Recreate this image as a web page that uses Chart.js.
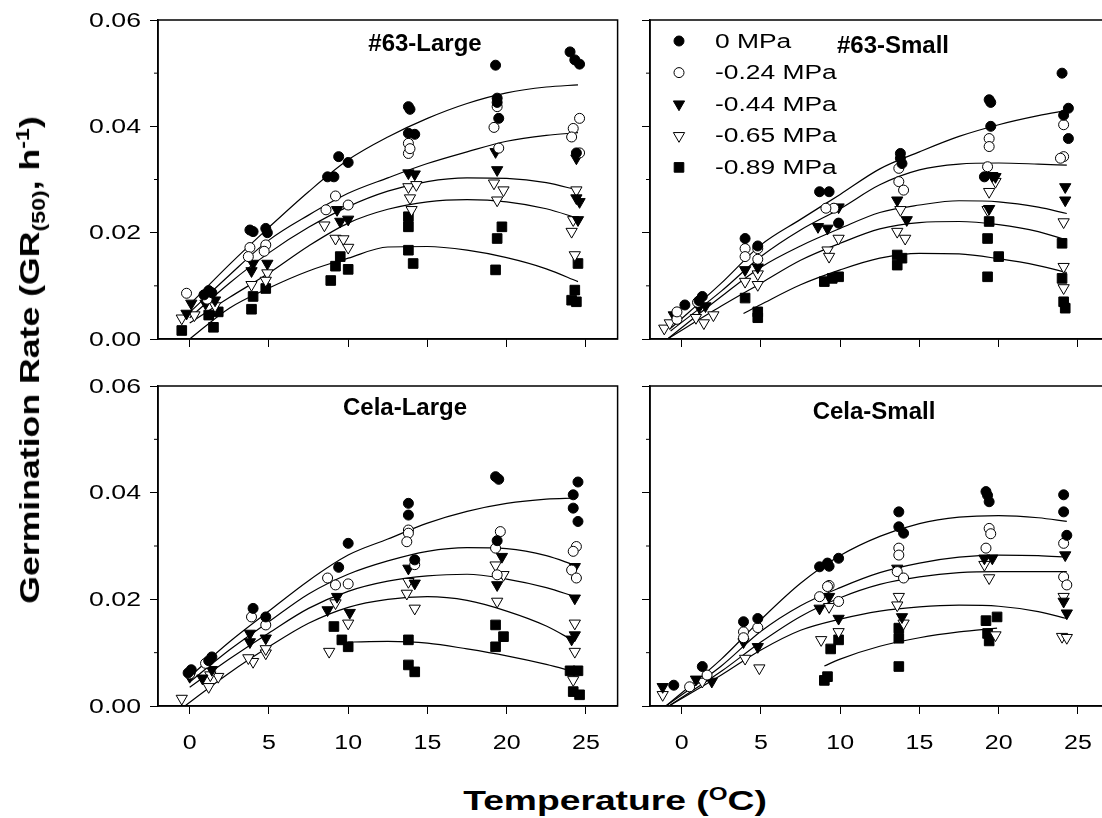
<!DOCTYPE html>
<html>
<head>
<meta charset="utf-8">
<script src="https://cdn.jsdelivr.net/npm/chart.js@4.4.0/dist/chart.umd.min.js"></script>
<style>
  html, body { margin: 0; padding: 0; background: #fff; }
  #wrap { position: relative; width: 1102px; height: 818px; overflow: hidden; background: #fff; }
  canvas { position: absolute; }
  .axis-title { position: absolute; font-family: Arial, "Liberation Sans", sans-serif; font-weight: bold; color: #000; white-space: nowrap; line-height: 1; }
  .axis-title sub, .axis-title sup { font-size: 65%; }
  #ytitle { left: 32px; top: 360px; transform: translate(-50%, -50%) rotate(-90deg) scaleX(1.32); font-size: 27px; }
  #xtitle { left: 615px; top: 800px; transform: translate(-50%, -50%) scaleX(1.33); font-size: 28px; }
</style>
</head>
<body>
<div id="wrap">
  <canvas id="c63L" width="640" height="360" style="left:0px;top:0px"></canvas>
  <canvas id="c63S" width="510" height="360" style="left:620px;top:0px"></canvas>
  <canvas id="cCelaL" width="640" height="400" style="left:0px;top:362px"></canvas>
  <canvas id="cCelaS" width="510" height="400" style="left:620px;top:362px"></canvas>
  <div id="ytitle" class="axis-title">Germination Rate (GR<sub>(50)</sub>, h<sup>-1</sup>)</div>
  <div id="xtitle" class="axis-title">Temperature (<sup>O</sup>C)</div>
</div>
<script>
const seriesLabels = ["0 MPa", "-0.24 MPa", "-0.44 MPa", "-0.65 MPa", "-0.89 MPa"];
const panelTitles = ["#63-Large", "#63-Small", "Cela-Large", "Cela-Small"];
const xTickValues = [0, 5, 10, 15, 20, 25];
const xTickLabels = ["0", "5", "10", "15", "20", "25"];
const yTickValues = [0, 0.02, 0.04, 0.06];
const yTickLabels = ["0.00", "0.02", "0.04", "0.06"];
const yMinorTicks = [0.01, 0.03, 0.05];

// observed points [temperature, rate], one list per water potential
const pts63Large = [
  [[0.9,0.0083],[1.2,0.0091],[1.4,0.0087],[3.8,0.0205],[4.0,0.0202],[4.8,0.0208],[4.9,0.0200],[8.7,0.0305],[9.1,0.0305],[9.4,0.0343],[10.0,0.0332],[13.8,0.0437],[13.9,0.0432],[13.8,0.0387],[14.2,0.0385],[19.3,0.0515],[19.4,0.0453],[19.4,0.0445],[19.5,0.0415],[24.0,0.0540],[24.3,0.0525],[24.6,0.0517],[24.4,0.0350]],
  [[-0.2,0.0086],[1.1,0.0075],[3.8,0.0172],[4.8,0.0177],[3.7,0.0155],[4.7,0.0165],[9.2,0.0269],[8.6,0.0243],[10.0,0.0252],[13.8,0.0368],[13.8,0.0349],[13.9,0.0358],[19.4,0.0437],[19.2,0.0398],[19.5,0.0359],[24.6,0.0415],[24.2,0.0396],[24.1,0.0380],[24.6,0.0350]],
  [[0.1,0.0067],[-0.2,0.0048],[1.0,0.0067],[1.6,0.0073],[4.0,0.0142],[4.9,0.0142],[3.9,0.0128],[9.3,0.0243],[9.5,0.0221],[10.0,0.0225],[13.8,0.0312],[14.2,0.0310],[19.3,0.0352],[19.4,0.0318],[24.4,0.0340],[24.4,0.0265],[24.6,0.0258],[24.5,0.0224]],
  [[-0.5,0.0039],[0.3,0.0045],[1.6,0.0062],[3.9,0.0102],[4.9,0.0124],[4.8,0.0110],[8.5,0.0214],[9.2,0.0189],[9.7,0.0188],[10.0,0.0172],[13.8,0.0286],[13.9,0.0265],[14.3,0.0290],[14.0,0.0243],[19.2,0.0293],[19.8,0.0280],[19.4,0.0261],[24.4,0.0280],[24.2,0.0224],[24.1,0.0202],[24.3,0.0158]],
  [[-0.5,0.0016],[1.2,0.0045],[1.8,0.0051],[1.5,0.0022],[4.0,0.0080],[3.9,0.0056],[4.8,0.0095],[9.5,0.0155],[9.2,0.0137],[10.0,0.0131],[8.9,0.0110],[13.8,0.0230],[13.8,0.0211],[13.8,0.0167],[14.1,0.0142],[19.7,0.0211],[19.4,0.0189],[19.3,0.0130],[24.5,0.0142],[24.3,0.0092],[24.1,0.0073],[24.4,0.0070]]
];
const fit63Large = [
  [[0,0.0065],[2.5,0.0140],[5,0.0210],[7.5,0.0277],[10,0.0337],[12.5,0.0380],[15,0.0415],[17.5,0.0443],[20,0.0463],[22.5,0.0474],[24.5,0.0478]],
  [[0,0.0050],[2.5,0.0120],[5,0.0186],[7.5,0.0233],[10,0.0274],[12.5,0.0303],[15,0.0330],[17.5,0.0352],[20,0.0372],[22.5,0.0383],[24.5,0.0388]],
  [[0,0.0040],[2.5,0.0105],[5,0.0162],[7.5,0.0210],[10,0.0249],[12.5,0.0278],[15,0.0296],[17.5,0.0303],[20,0.0302],[22.5,0.0294],[24.5,0.0280]],
  [[0,0.0030],[2.5,0.0078],[5,0.0124],[7.5,0.0175],[10,0.0218],[12.5,0.0244],[15,0.0258],[17.5,0.0262],[20,0.0258],[22.5,0.0245],[24.5,0.0227]],
  [[0,0.0000],[2.5,0.0058],[5,0.0096],[7.5,0.0128],[10,0.0152],[12.5,0.0173],[15,0.0174],[17.5,0.0167],[20,0.0153],[22.5,0.0132],[24.5,0.0108]]
];

const pts63Small = [
  [[0.2,0.0064],[1.3,0.0080],[1.1,0.0072],[4.0,0.0189],[4.8,0.0175],[8.7,0.0277],[9.3,0.0277],[9.9,0.0218],[13.8,0.0349],[13.8,0.0340],[13.9,0.0330],[19.4,0.0450],[19.5,0.0445],[19.5,0.0400],[19.1,0.0305],[24.0,0.0500],[24.4,0.0434],[24.1,0.0421],[24.4,0.0377]],
  [[-0.3,0.0037],[-0.3,0.0051],[1.0,0.0069],[4.0,0.0170],[4.8,0.0170],[4.0,0.0155],[4.8,0.0150],[9.6,0.0246],[9.1,0.0246],[13.7,0.0321],[13.7,0.0296],[14.0,0.0280],[19.4,0.0377],[19.4,0.0362],[19.3,0.0324],[24.1,0.0403],[24.1,0.0343],[23.9,0.0340]],
  [[-0.5,0.0045],[1.1,0.0060],[1.5,0.0062],[4.0,0.0130],[4.8,0.0135],[8.6,0.0211],[9.2,0.0208],[9.9,0.0248],[13.6,0.0261],[14.2,0.0224],[19.6,0.0307],[19.8,0.0305],[19.4,0.0245],[24.2,0.0286],[24.2,0.0261]],
  [[-1.1,0.0020],[-0.75,0.0030],[0.9,0.0040],[1.4,0.0030],[2.0,0.0045],[4.0,0.0108],[4.8,0.0102],[4.8,0.0122],[9.2,0.0167],[9.9,0.0189],[9.3,0.0155],[13.8,0.0243],[13.6,0.0202],[14.1,0.0189],[19.8,0.0296],[19.4,0.0277],[19.3,0.0243],[24.1,0.0220],[24.1,0.0136],[24.1,0.0096]],
  [[4.0,0.0077],[4.8,0.0051],[4.8,0.0040],[9.0,0.0108],[9.5,0.0114],[9.9,0.0117],[13.6,0.0158],[13.9,0.0152],[13.6,0.0139],[19.4,0.0221],[19.3,0.0189],[20.0,0.0155],[19.3,0.0117],[24.0,0.0180],[24.0,0.0114],[24.1,0.0070],[24.2,0.0058]]
];
const fit63Small = [
  [[-0.7,0.0020],[2.5,0.0105],[5,0.0177],[7.5,0.0225],[10,0.0272],[12.5,0.0320],[15,0.0352],[17.5,0.0381],[20,0.0403],[22.5,0.0420],[24.3,0.0430]],
  [[-0.7,0.0015],[2.5,0.0090],[5,0.0155],[7.5,0.0205],[10,0.0245],[12.5,0.0290],[15,0.0318],[17.5,0.0329],[20,0.0331],[22.5,0.0329],[24.3,0.0327]],
  [[-0.9,0.0000],[2.5,0.0080],[5,0.0135],[7.5,0.0175],[10,0.0208],[12.5,0.0238],[15,0.0252],[17.5,0.0260],[20,0.0258],[22.5,0.0248],[24.3,0.0236]],
  [[-0.9,0.0000],[2.5,0.0062],[5,0.0105],[7.5,0.0148],[10,0.0180],[12.5,0.0207],[15,0.0219],[17.5,0.0221],[20,0.0215],[22.5,0.0202],[24.3,0.0186]],
  [[3.9,0.0048],[5,0.0065],[7.5,0.0102],[10,0.0130],[12.5,0.0152],[15,0.0161],[17.5,0.0160],[20,0.0151],[22.5,0.0138],[24.3,0.0125]]
];

const ptsCelaLarge = [
  [[0.1,0.0068],[-0.1,0.0062],[1.4,0.0092],[1.2,0.0085],[4.0,0.0183],[4.8,0.0167],[10.0,0.0305],[9.4,0.0260],[13.8,0.0380],[13.8,0.0358],[14.2,0.0274],[19.3,0.0430],[19.5,0.0425],[19.4,0.0310],[24.5,0.0420],[24.2,0.0396],[24.2,0.0371],[24.5,0.0346]],
  [[0.0,0.0060],[1.0,0.0080],[3.9,0.0167],[4.8,0.0152],[8.7,0.0240],[9.2,0.0227],[10.0,0.0229],[13.8,0.0330],[13.8,0.0324],[13.7,0.0308],[14.2,0.0265],[19.6,0.0327],[19.3,0.0296],[19.4,0.0246],[24.4,0.0299],[24.2,0.0290],[24.1,0.0255],[24.4,0.0240]],
  [[0.0,0.0055],[0.8,0.0052],[1.4,0.0068],[3.8,0.0136],[4.8,0.0127],[3.8,0.0120],[8.7,0.0180],[9.3,0.0205],[10.1,0.0175],[13.8,0.0258],[14.2,0.0230],[19.7,0.0280],[19.4,0.0227],[24.3,0.0261],[24.3,0.0202],[24.3,0.0133],[24.1,0.0125]],
  [[-0.5,0.0014],[1.2,0.0036],[1.8,0.0055],[1.3,0.0058],[4.0,0.0083],[4.8,0.0099],[4.8,0.0107],[3.7,0.0090],[9.2,0.0193],[10.0,0.0155],[8.8,0.0102],[13.8,0.0233],[13.7,0.0211],[14.2,0.0183],[19.3,0.0264],[19.8,0.0246],[19.4,0.0196],[24.3,0.0155],[24.3,0.0102],[24.2,0.0049]],
  [[9.1,0.0149],[9.6,0.0124],[10.0,0.0111],[13.8,0.0124],[13.8,0.0077],[14.2,0.0064],[19.3,0.0152],[19.8,0.0130],[19.3,0.0111],[24.0,0.0066],[24.5,0.0066],[24.2,0.0027],[24.6,0.0021]]
];
const fitCelaLarge = [
  [[0,0.0055],[2.5,0.0120],[5,0.0178],[7.5,0.0235],[10,0.0283],[12.5,0.0313],[15,0.0343],[17.5,0.0365],[20,0.0380],[22.5,0.0388],[24.3,0.0390]],
  [[0,0.0045],[2.5,0.0105],[5,0.0158],[7.5,0.0210],[10,0.0247],[12.5,0.0272],[15,0.0290],[17.5,0.0297],[20,0.0295],[22.5,0.0282],[24.3,0.0264]],
  [[0,0.0035],[2.5,0.0088],[5,0.0137],[7.5,0.0183],[10,0.0215],[12.5,0.0234],[15,0.0244],[17.5,0.0247],[20,0.0238],[22.5,0.0222],[24.3,0.0205]],
  [[-0.3,0.0000],[2.5,0.0062],[5,0.0111],[7.5,0.0155],[10,0.0185],[12.5,0.0200],[15,0.0205],[17.5,0.0198],[20,0.0178],[22.5,0.0150],[24.3,0.0121]],
  [[10,0.0120],[12.5,0.0121],[15,0.0118],[17.5,0.0107],[20,0.0094],[22.5,0.0078],[24.3,0.0064]]
];

const ptsCelaSmall = [
  [[-0.5,0.0039],[1.3,0.0074],[3.9,0.0158],[4.8,0.0164],[8.7,0.0261],[9.3,0.0262],[9.2,0.0268],[9.9,0.0277],[13.7,0.0364],[13.7,0.0336],[14.0,0.0324],[19.2,0.0402],[19.4,0.0383],[19.3,0.0395],[24.1,0.0396],[24.1,0.0364],[24.3,0.0320]],
  [[0.5,0.0036],[1.6,0.0058],[3.9,0.0139],[4.8,0.0147],[3.9,0.0128],[9.3,0.0226],[8.7,0.0205],[9.2,0.0224],[9.9,0.0196],[13.7,0.0296],[13.7,0.0283],[13.6,0.0252],[14.0,0.0240],[19.4,0.0333],[19.5,0.0323],[19.2,0.0296],[24.1,0.0305],[24.1,0.0242],[24.3,0.0227]],
  [[-1.2,0.0036],[0.9,0.0050],[1.9,0.0046],[3.9,0.0120],[4.8,0.0111],[8.7,0.0183],[9.3,0.0205],[9.9,0.0164],[13.6,0.0258],[13.9,0.0167],[19.1,0.0277],[19.6,0.0277],[24.2,0.0283],[24.1,0.0196],[24.3,0.0174]],
  [[-1.2,0.0021],[1.3,0.0046],[4.0,0.0089],[4.9,0.0071],[8.8,0.0124],[9.3,0.0186],[9.9,0.0139],[13.7,0.0205],[13.6,0.0189],[14.0,0.0155],[19.1,0.0265],[19.4,0.0240],[19.8,0.0133],[24.1,0.0205],[24.0,0.0130],[24.3,0.0128]],
  [[9.0,0.0048],[9.2,0.0055],[9.4,0.0107],[9.9,0.0124],[13.7,0.0146],[13.7,0.0127],[13.7,0.0074],[19.9,0.0167],[19.2,0.0160],[19.3,0.0136],[19.4,0.0122]]
];
const fitCelaSmall = [
  [[-1,0.0000],[2.5,0.0088],[5,0.0162],[7.5,0.0230],[10,0.0282],[12.5,0.0318],[15,0.0342],[17.5,0.0354],[20,0.0357],[22.5,0.0353],[24.3,0.0346]],
  [[-1,0.0000],[2.5,0.0075],[5,0.0140],[7.5,0.0188],[10,0.0222],[12.5,0.0250],[15,0.0268],[17.5,0.0279],[20,0.0283],[22.5,0.0282],[24.3,0.0279]],
  [[-0.8,0.0000],[2.5,0.0065],[5,0.0120],[7.5,0.0168],[10,0.0203],[12.5,0.0228],[15,0.0242],[17.5,0.0250],[20,0.0252],[22.5,0.0252],[24.3,0.0252]],
  [[-0.8,0.0000],[2.5,0.0058],[5,0.0105],[7.5,0.0142],[10,0.0163],[12.5,0.0178],[15,0.0186],[17.5,0.0189],[20,0.0187],[22.5,0.0177],[24.3,0.0164]],
  [[9,0.0075],[10,0.0088],[12.5,0.0112],[15,0.0128],[17.5,0.0139],[19.9,0.0146]]
];

const markers = [
  { pointStyle: "circle", fill: "#000", radius: 5, rotation: 0 },
  { pointStyle: "circle", fill: "#fff", radius: 5, rotation: 0 },
  { pointStyle: "triangle", fill: "#000", radius: 6.5, rotation: 180 },
  { pointStyle: "triangle", fill: "#fff", radius: 6.5, rotation: 180 },
  { pointStyle: "rect", fill: "#000", radius: 6.8, rotation: 0 }
];

const FONT = "Arial, 'Liberation Sans', sans-serif";

function drawMarker(ctx, m, x, y) {
  ctx.fillStyle = m.fill;
  ctx.strokeStyle = "#000";
  ctx.lineWidth = 1;
  if (Chart.helpers && Chart.helpers.drawPoint) {
    Chart.helpers.drawPoint(ctx, { pointStyle: m.pointStyle, radius: m.radius, rotation: m.rotation, borderWidth: 1 }, x, y);
  }
}

// text in the original figure is drawn wide, so stretch it horizontally
function wideText(ctx, text, x, y, align, stretch) {
  ctx.save();
  ctx.translate(x, y);
  ctx.scale(stretch, 1);
  ctx.textAlign = align;
  ctx.textBaseline = "middle";
  ctx.fillText(text, 0, 0);
  ctx.restore();
}

const panelDecor = {
  id: "panelDecor",
  afterDatasetsDraw(chart, args, opts) {
    const { ctx, chartArea: a, scales } = chart;
    ctx.save();
    ctx.strokeStyle = "#000";
    ctx.lineWidth = 1.5;
    ctx.strokeRect(a.left, a.top, a.right - a.left, a.bottom - a.top);
    ctx.lineWidth = 1;
    yMinorTicks.forEach(v => {
      const y = scales.y.getPixelForValue(v);
      ctx.beginPath();
      ctx.moveTo(a.left - 4, y);
      ctx.lineTo(a.left, y);
      ctx.stroke();
    });
    ctx.fillStyle = "#000";
    if (opts.yLabels) {
      ctx.font = "21px " + FONT;
      scales.y.ticks.forEach((t, i) => {
        wideText(ctx, yTickLabels[i], a.left - 17, scales.y.getPixelForValue(t.value) + 1, "right", 1.27);
      });
    }
    if (opts.xLabels) {
      ctx.font = "20px " + FONT;
      scales.x.ticks.forEach((t, i) => {
        wideText(ctx, xTickLabels[i], scales.x.getPixelForValue(t.value), a.bottom + 37, "center", 1.25);
      });
    }
    ctx.font = "bold 24px " + FONT;
    ctx.textAlign = "center";
    ctx.textBaseline = "middle";
    ctx.fillText(opts.title, a.left + opts.tx, a.top + opts.ty);
    if (opts.legend) {
      seriesLabels.forEach((lab, i) => {
        const y = a.top + 21 + i * 31.6;
        drawMarker(ctx, markers[i], a.left + 29, y);
        ctx.fillStyle = "#000";
        ctx.font = "20px " + FONT;
        wideText(ctx, lab, a.left + 65, y + 1, "left", 1.32);
      });
    }
    ctx.restore();
  }
};

const panels = [
  { id: "c63L", pts: pts63Large, fits: fit63Large, title: panelTitles[0], tx: 267, ty: 24, yw: 158, xh: 21, padTop: 20, padRight: 22.4, showX: false, showY: true, legend: false },
  { id: "c63S", pts: pts63Small, fits: fit63Small, title: panelTitles[1], tx: 243, ty: 26, yw: 30, xh: 21, padTop: 20, padRight: 20.4, showX: false, showY: false, legend: true },
  { id: "cCelaL", pts: ptsCelaLarge, fits: fitCelaLarge, title: panelTitles[2], tx: 247, ty: 22, yw: 158, xh: 56, padTop: 24, padRight: 22.4, showX: true, showY: true, legend: false },
  { id: "cCelaS", pts: ptsCelaSmall, fits: fitCelaSmall, title: panelTitles[3], tx: 224, ty: 26, yw: 30, xh: 56, padTop: 24, padRight: 20.4, showX: true, showY: false, legend: false }
];

function makePanel(p) {
  const datasets = [];
  p.pts.forEach((pts, i) => {
    const m = markers[i];
    datasets.push({
      label: seriesLabels[i],
      data: pts,
      pointStyle: m.pointStyle,
      pointRadius: m.radius,
      pointRotation: m.rotation,
      pointBackgroundColor: m.fill,
      pointBorderColor: "#000",
      pointBorderWidth: 1,
      showLine: false
    });
  });
  p.fits.forEach((fit, i) => {
    datasets.push({
      label: seriesLabels[i] + " fit",
      data: fit,
      showLine: true,
      pointRadius: 0,
      borderColor: "#000",
      borderWidth: 1.2,
      cubicInterpolationMode: "monotone",
      fill: false
    });
  });

  new Chart(document.getElementById(p.id), {
    type: "scatter",
    data: { datasets },
    options: {
      responsive: false,
      animation: false,
      devicePixelRatio: 1,
      events: [],
      layout: { padding: { top: p.padTop, right: p.padRight, left: 0, bottom: 0 } },
      plugins: {
        legend: { display: false },
        tooltip: { enabled: false },
        panelDecor: { title: p.title, tx: p.tx, ty: p.ty, legend: p.legend, yLabels: p.showY, xLabels: p.showX }
      },
      scales: {
        x: {
          type: "linear",
          min: -2,
          max: 27,
          afterBuildTicks: s => { s.ticks = xTickValues.map(v => ({ value: v })); },
          afterFit: s => { s.height = p.xh; s.paddingLeft = 0; s.paddingRight = 0; },
          grid: { drawOnChartArea: false, drawTicks: true, tickLength: 8, color: "#000", lineWidth: 1 },
          border: { display: true, color: "#000", width: 1.5 },
          ticks: { display: false }
        },
        y: {
          type: "linear",
          min: 0,
          max: 0.06,
          afterBuildTicks: s => { s.ticks = yTickValues.map(v => ({ value: v })); },
          afterFit: s => { s.width = p.yw; s.paddingTop = 0; s.paddingBottom = 0; },
          grid: { drawOnChartArea: false, drawTicks: true, tickLength: 8, color: "#000", lineWidth: 1 },
          border: { display: true, color: "#000", width: 1.5 },
          ticks: { display: false }
        }
      }
    },
    plugins: [panelDecor]
  });
}

panels.forEach(makePanel);
</script>
</body>
</html>
